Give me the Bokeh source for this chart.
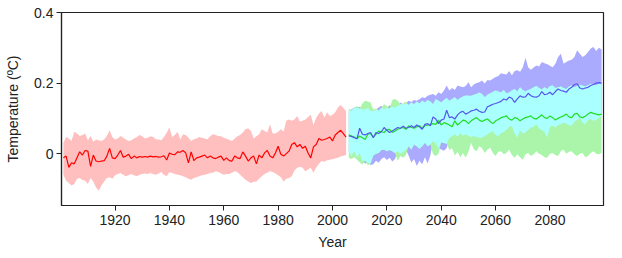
import numpy as np
from bokeh.plotting import figure
from bokeh.models import Range1d, FixedTicker
from bokeh.embed import file_html
from bokeh.resources import INLINE

# ---------------- data ----------------
hist_years = list(range(1901, 2006))
hist_mean = [
    -0.012, -0.007, -0.039, -0.026, -0.029, -0.012, 0.005, -0.004, 0.009, 0.007,
    -0.036, -0.004, -0.021, -0.023, -0.021, -0.020, -0.007, 0.015, -0.012, -0.014,
    -0.004, 0.009, -0.010, -0.007, -0.002, -0.014, -0.007, -0.012, -0.008, -0.010,
    -0.008, -0.010, -0.007, -0.009, -0.008, -0.010, -0.009, -0.006,
    -0.018, 0.002, -0.002, -0.003, 0.005, 0.004, 0.009, 0.002, -0.026, 0.005, -0.020, -0.012,
    -0.010, -0.007, -0.004, -0.012, -0.007, -0.012, -0.014, -0.010, -0.007, -0.019,
    -0.012, -0.020, -0.021, -0.007, -0.012, -0.014, 0.005, -0.007, -0.021, -0.012,
    -0.007, -0.029, -0.004, -0.012, 0.002, 0.009, -0.007, -0.012, 0.002, 0.021,
    -0.002, -0.007, 0.000, 0.007, 0.026, 0.031, 0.019, 0.026, 0.015, 0.021,
    0.002, -0.012, 0.019, 0.026, 0.043, 0.038, 0.040, 0.043, 0.047, 0.036,
    0.053, 0.060, 0.066, 0.057, 0.047,
]
hist_hi = [
    0.031, 0.047, 0.043, 0.036, 0.062, 0.057, 0.050, 0.053, 0.057, 0.038,
    0.050, 0.034, 0.040, 0.038, 0.036, 0.041, 0.050, 0.066, 0.047, 0.040,
    0.043, 0.050, 0.045, 0.040, 0.036, 0.038, 0.043, 0.047, 0.053, 0.049,
    0.043, 0.045, 0.049, 0.047, 0.041, 0.040, 0.038, 0.047, 0.059, 0.074,
    0.047, 0.053, 0.062, 0.040, 0.055, 0.053, 0.045, 0.036, 0.041, 0.043,
    0.047, 0.045, 0.043, 0.041, 0.049, 0.055, 0.053, 0.050, 0.049, 0.045,
    0.042, 0.039, 0.036, 0.043, 0.049, 0.053, 0.060, 0.069, 0.072, 0.064,
    0.043, 0.049, 0.055, 0.069, 0.064, 0.060, 0.083, 0.057, 0.057, 0.062,
    0.069, 0.062, 0.093, 0.097, 0.093, 0.097, 0.107, 0.091, 0.093, 0.097,
    0.104, 0.110, 0.081, 0.102, 0.114, 0.121, 0.102, 0.117, 0.107, 0.110,
    0.117, 0.131, 0.138, 0.129, 0.121,
]
hist_lo = [
    -0.060, -0.077, -0.083, -0.090, -0.086, -0.071, -0.069, -0.075, -0.077, -0.086,
    -0.069, -0.079, -0.096, -0.105, -0.090, -0.079, -0.069, -0.067, -0.071, -0.061,
    -0.058, -0.055, -0.060, -0.064, -0.061, -0.058, -0.061, -0.064, -0.060, -0.058,
    -0.056, -0.058, -0.055, -0.058, -0.060, -0.056, -0.052, -0.060, -0.064, -0.053,
    -0.055, -0.058, -0.060, -0.061, -0.064, -0.067, -0.071, -0.074, -0.069, -0.067,
    -0.064, -0.061, -0.060, -0.058, -0.055, -0.054, -0.050, -0.052, -0.056, -0.060,
    -0.058, -0.058, -0.054, -0.050, -0.052, -0.060, -0.067, -0.074, -0.079, -0.083,
    -0.080, -0.079, -0.071, -0.064, -0.058, -0.054, -0.050, -0.052, -0.056, -0.061,
    -0.067, -0.079, -0.071, -0.069, -0.064, -0.048, -0.040, -0.037, -0.040, -0.050,
    -0.045, -0.040, -0.054, -0.039, -0.029, -0.021, -0.023, -0.019, -0.017, -0.016,
    -0.014, -0.012, -0.008, -0.006, -0.004,
]

fut_years = list(range(2006, 2100))
blue_mean = [
    0.050, 0.049, 0.045, 0.042, 0.072, 0.055, 0.053, 0.057, 0.060, 0.045,
    0.060, 0.057, 0.062, 0.074, 0.066, 0.060, 0.064, 0.069, 0.074, 0.072,
    0.078, 0.072, 0.074, 0.079, 0.074, 0.081, 0.076, 0.069, 0.083, 0.085,
    0.079, 0.104, 0.098, 0.085, 0.095, 0.098, 0.123, 0.102, 0.104, 0.098,
    0.110, 0.117, 0.120, 0.112, 0.116, 0.121, 0.123, 0.126, 0.120, 0.117,
    0.118, 0.133, 0.136, 0.140, 0.142, 0.145, 0.148, 0.155, 0.152, 0.160,
    0.157, 0.145, 0.155, 0.164, 0.160, 0.161, 0.171, 0.164, 0.161, 0.160,
    0.164, 0.176, 0.167, 0.169, 0.174, 0.167, 0.176, 0.183, 0.179, 0.177,
    0.174, 0.183, 0.188, 0.196, 0.198, 0.186, 0.183, 0.186, 0.188, 0.193,
    0.196, 0.200, 0.201, 0.200,
]
green_mean = [
    0.053, 0.050, 0.047, 0.042, 0.050, 0.045, 0.040, 0.055, 0.057, 0.047,
    0.055, 0.064, 0.062, 0.060, 0.068, 0.069, 0.060, 0.064, 0.069, 0.072,
    0.074, 0.069, 0.079, 0.074, 0.072, 0.076, 0.079, 0.072, 0.079, 0.081,
    0.083, 0.085, 0.083, 0.095, 0.081, 0.088, 0.085, 0.081, 0.076, 0.093,
    0.081, 0.088, 0.095, 0.093, 0.085, 0.093, 0.098, 0.102, 0.095, 0.091,
    0.095, 0.098, 0.091, 0.085, 0.093, 0.097, 0.102, 0.104, 0.107, 0.098,
    0.095, 0.102, 0.100, 0.093, 0.098, 0.102, 0.104, 0.107, 0.100, 0.098,
    0.104, 0.110, 0.102, 0.100, 0.107, 0.102, 0.095, 0.100, 0.104, 0.107,
    0.112, 0.104, 0.102, 0.112, 0.114, 0.104, 0.102, 0.106, 0.112, 0.117,
    0.114, 0.112, 0.110, 0.112,
]
blue_hi = [
    0.121, 0.126, 0.131, 0.129, 0.133, 0.126, 0.125, 0.129, 0.121, 0.120,
    0.125, 0.131, 0.136, 0.126, 0.129, 0.137, 0.133, 0.131, 0.135, 0.145,
    0.139, 0.142, 0.150, 0.146, 0.152, 0.150, 0.154, 0.160, 0.158, 0.164,
    0.167, 0.169, 0.164, 0.174, 0.169, 0.179, 0.193, 0.179, 0.186, 0.180,
    0.193, 0.190, 0.188, 0.192, 0.202, 0.188, 0.196, 0.200, 0.202, 0.207,
    0.199, 0.209, 0.207, 0.212, 0.217, 0.220, 0.228, 0.226, 0.224, 0.234,
    0.222, 0.234, 0.236, 0.232, 0.244, 0.272, 0.244, 0.238, 0.244, 0.250,
    0.247, 0.260, 0.256, 0.253, 0.249, 0.245, 0.255, 0.274, 0.283, 0.255,
    0.260, 0.264, 0.266, 0.274, 0.293, 0.283, 0.274, 0.279, 0.288, 0.298,
    0.302, 0.291, 0.300, 0.295,
]
blue_lo = [
    0.005, -0.005, 0.007, -0.010, 0.002, -0.020, -0.028, -0.025, -0.032, -0.030,
    -0.020, -0.026, -0.015, -0.010, -0.018, -0.012, -0.022, -0.015, 0.007, 0.000,
    0.005, 0.012, -0.005, -0.025, -0.015, -0.035, -0.020, -0.030, -0.010, -0.028,
    -0.005, 0.036, 0.029, 0.015, 0.012, 0.008, 0.016, 0.045, 0.050, 0.055,
    0.048, 0.058, 0.051, 0.055, 0.050, 0.047, 0.050, 0.047, 0.045, 0.045,
    0.050, 0.055, 0.060, 0.064, 0.053, 0.050, 0.058, 0.062, 0.068, 0.076,
    0.078, 0.057, 0.045, 0.066, 0.057, 0.060, 0.068, 0.074, 0.076, 0.083,
    0.072, 0.066, 0.062, 0.045, 0.076, 0.079, 0.074, 0.081, 0.083, 0.088,
    0.085, 0.081, 0.079, 0.091, 0.095, 0.102, 0.088, 0.083, 0.095, 0.098,
    0.093, 0.095, 0.102, 0.106,
]
green_hi = [
    0.128, 0.122, 0.130, 0.135, 0.128, 0.142, 0.150, 0.148, 0.145, 0.125,
    0.128, 0.122, 0.130, 0.140, 0.135, 0.128, 0.152, 0.155, 0.150, 0.140,
    0.142, 0.148, 0.138, 0.145, 0.140, 0.148, 0.142, 0.150, 0.145, 0.152,
    0.148, 0.140, 0.155, 0.150, 0.145, 0.152, 0.158, 0.150, 0.155, 0.160,
    0.152, 0.158, 0.162, 0.165, 0.164, 0.164, 0.167, 0.169, 0.173, 0.169,
    0.160, 0.167, 0.171, 0.175, 0.179, 0.176, 0.173, 0.180, 0.171, 0.173,
    0.179, 0.183, 0.176, 0.188, 0.180, 0.176, 0.180, 0.183, 0.188, 0.192,
    0.186, 0.182, 0.188, 0.183, 0.192, 0.193, 0.186, 0.188, 0.190, 0.186,
    0.183, 0.190, 0.193, 0.188, 0.192, 0.195, 0.193, 0.190, 0.194, 0.198,
    0.195, 0.193, 0.198, 0.198,
]
green_lo = [
    -0.012, -0.015, -0.010, -0.017, -0.025, -0.031, -0.020, -0.033, -0.028, -0.005,
    0.000, 0.002, 0.010, 0.012, 0.007, 0.010, 0.007, 0.002, -0.020, -0.007,
    -0.012, -0.004, 0.021, 0.012, 0.026, 0.021, 0.014, 0.021, 0.031, 0.021,
    0.026, -0.002, -0.007, 0.000, 0.032, 0.030, 0.028, 0.010, 0.015, -0.005,
    0.005, -0.010, 0.002, -0.012, 0.005, 0.031, 0.012, 0.007, 0.021, 0.015,
    0.002, 0.012, 0.017, 0.002, -0.007, 0.005, 0.007, -0.002, 0.002, 0.012,
    -0.004, -0.012, -0.002, -0.010, -0.017, -0.002, 0.002, -0.007, -0.002, 0.007,
    0.000, -0.004, -0.010, -0.012, 0.000, 0.002, -0.004, -0.007, 0.007, 0.012,
    0.000, 0.005, 0.007, -0.002, -0.007, 0.000, 0.002, -0.010, -0.007, 0.002,
    0.007, 0.000, -0.002, 0.002,
]

x_ticks = [1920, 1940, 1960, 1980, 2000, 2020, 2040, 2060, 2080]
y_ticks = [0, 0.2, 0.4]
y_tick_labels = {0: "0", 0.2: "0.2", 0.4: "0.4"}

# overlap of the two scenario envelopes
both_lo = np.maximum(np.array(blue_lo), np.array(green_lo))
both_hi = np.minimum(np.array(blue_hi), np.array(green_hi))

# ---------------- figure ----------------
FONT = "Liberation Sans"
p = figure(width=622, height=258, output_backend="svg", toolbar_location=None,
           x_range=Range1d(1900.3, 2099.7), y_range=Range1d(-0.147, 0.4),
           min_border_left=61, min_border_right=19, min_border_top=12,
           min_border_bottom=53)
p.background_fill_color = "white"
p.border_fill_color = "white"
p.outline_line_color = "#222222"
p.outline_line_width = 1.2
p.xgrid.visible = False
p.ygrid.visible = False

p.varea(x=fut_years, y1=blue_lo, y2=blue_hi, fill_color="#aaaaff")
p.varea(x=fut_years, y1=green_lo, y2=green_hi, fill_color="#aaf5aa")
p.varea(x=fut_years, y1=both_lo, y2=both_hi, fill_color="#aaffff")
p.varea(x=hist_years, y1=hist_lo, y2=hist_hi, fill_color="#ffbfbf")

p.line(hist_years, hist_mean, line_color="#ff0000", line_width=1.2)
p.line(fut_years, green_mean, line_color="#22dd22", line_width=1.2)
p.line(fut_years, blue_mean, line_color="#5555ee", line_width=1.2)

for ax in (p.xaxis[0], p.yaxis[0]):
    ax.axis_line_color = "#222222"
    ax.axis_line_width = 1.2
    ax.major_tick_line_color = "#222222"
    ax.major_tick_in = 0
    ax.major_tick_out = 5
    ax.minor_tick_line_color = None
    ax.major_label_text_font = FONT
    ax.major_label_text_font_size = "14px"
    ax.major_label_text_color = "#222222"
    ax.axis_label_text_font = FONT
    ax.axis_label_text_font_size = "14px"
    ax.axis_label_text_font_style = "normal"
    ax.axis_label_text_color = "#222222"

p.xaxis.ticker = FixedTicker(ticks=x_ticks)
p.yaxis.ticker = FixedTicker(ticks=y_ticks)
p.yaxis.major_label_overrides = y_tick_labels
p.xaxis.axis_label = "Year"
p.yaxis.axis_label = "Temperature (ºC)"
p.xaxis.major_label_standoff = 4
p.yaxis.major_label_standoff = 3
p.xaxis.axis_label_standoff = 6
p.yaxis.axis_label_standoff = 10

open("out.html", "w").write(file_html(p, INLINE))
